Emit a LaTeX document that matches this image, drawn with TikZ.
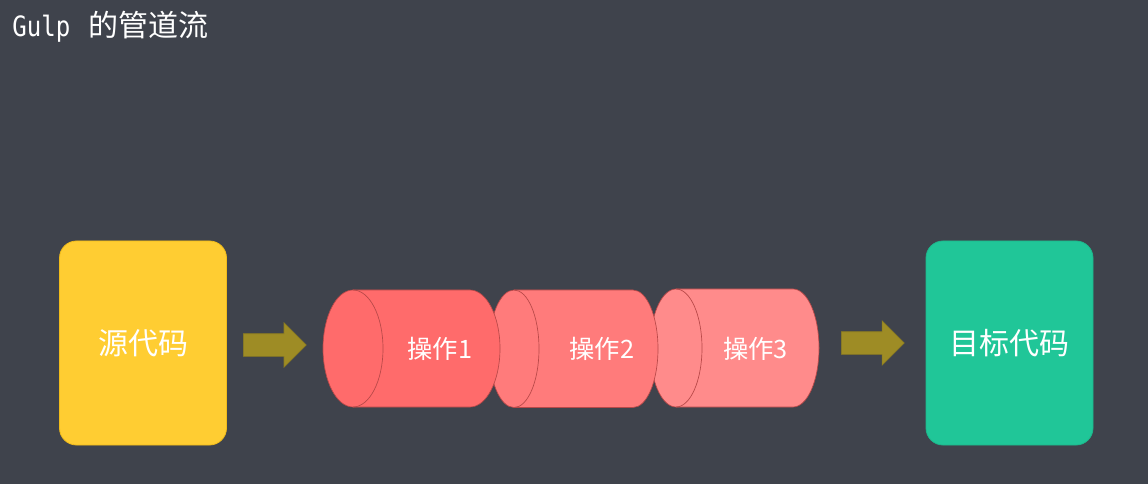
\documentclass[tikz,border=0pt]{standalone}
\usepackage{fontspec}
\newfontfamily\cjk{Noto Sans CJK SC}
\newfontfamily\monofont[FakeStretch=0.86]{DejaVu Sans Mono}
\usetikzlibrary{shapes.arrows}
\definecolor{bg}{HTML}{3F434C}
\definecolor{ybox}{HTML}{FFCD32}
\definecolor{yedge}{HTML}{F2BC1A}
\definecolor{gbox}{HTML}{20C698}
\definecolor{gedge}{HTML}{1DB88C}
\definecolor{cylA}{HTML}{FF6B6B}
\definecolor{cylB}{HTML}{FF7B7B}
\definecolor{cylC}{HTML}{FF8B8B}
\definecolor{cyledge}{HTML}{B84848}
\definecolor{arrfill}{HTML}{9E8C25}
\definecolor{arredge}{HTML}{8C7C20}
\tikzset{
  codebox/.style={rounded corners=12.75pt, line width=0.6pt, text=white,
    font=\cjk\fontsize{22.5}{26}\selectfont, minimum width=125.25pt, minimum height=153pt, inner sep=0pt},
  blockarrow/.style={single arrow, fill=arrfill, draw=arredge, line width=0.4pt,
    inner xsep=0pt, inner ysep=8.25pt, minimum height=47.25pt,
    single arrow head extend=8.25pt, single arrow tip angle=90, anchor=west},
  cyl/.style={draw=cyledge, line width=0.5pt},
  cyltext/.style={text=white, font=\cjk\fontsize{19}{22}\selectfont},
}
% #1 fill, #2 left centre x, #3 right centre x, #4 rx (px), #5 top y, #6 bottom y
\newcommand\mycyl[6]{%
  \pgfmathsetmacro\cyy{(#5+#6)/2}%
  \pgfmathsetmacro\ryy{(#6-#5)/2*0.75}%
  \pgfmathsetmacro\rxx{#4*0.75}%
  \fill[#1] (#2,#5) -- (#3,#5) arc[start angle=90,end angle=-90,x radius=\rxx pt,y radius=\ryy pt] -- (#2,#6) arc[start angle=270,end angle=90,x radius=\rxx pt,y radius=\ryy pt] -- cycle;
  \draw[cyl] (#2,#5) -- (#3,#5) arc[start angle=90,end angle=-90,x radius=\rxx pt,y radius=\ryy pt] -- (#2,#6);
  \draw[cyl] (#2,\cyy) ellipse[x radius=\rxx pt,y radius=\ryy pt];
}
\begin{document}
\begin{tikzpicture}[x=0.75pt,y=-0.75pt]
\fill[bg] (0,0) rectangle (1148,484);
\useasboundingbox (0,0) rectangle (1148,484);
\node[anchor=base west, inner sep=0pt, text=white] (title) at (12,37)
  {{\monofont\fontsize{21}{24}\selectfont Gulp}\hspace{14pt}{\cjk\fontsize{22.5}{24}\selectfont 的管道流}};
\node[codebox, fill=ybox, draw=yedge] (src) at (143,343) {源代码};
\node[codebox, fill=gbox, draw=gedge] (dst) at (1009.5,343) {目标代码};
\node[blockarrow] (a1) at (243,345) {};
\node[blockarrow] (a2) at (841,343) {};
\mycyl{cylC}{676}{793}{26}{289}{407}
\mycyl{cylB}{514}{633}{25}{290}{407.5}
\mycyl{cylA}{353}{470}{30}{290}{407}
\node[cyltext] (op1) at (440,349) {操作1};
\node[cyltext] (op2) at (602,349) {操作2};
\node[cyltext] (op3) at (755.5,349) {操作3};
\end{tikzpicture}
\end{document}
